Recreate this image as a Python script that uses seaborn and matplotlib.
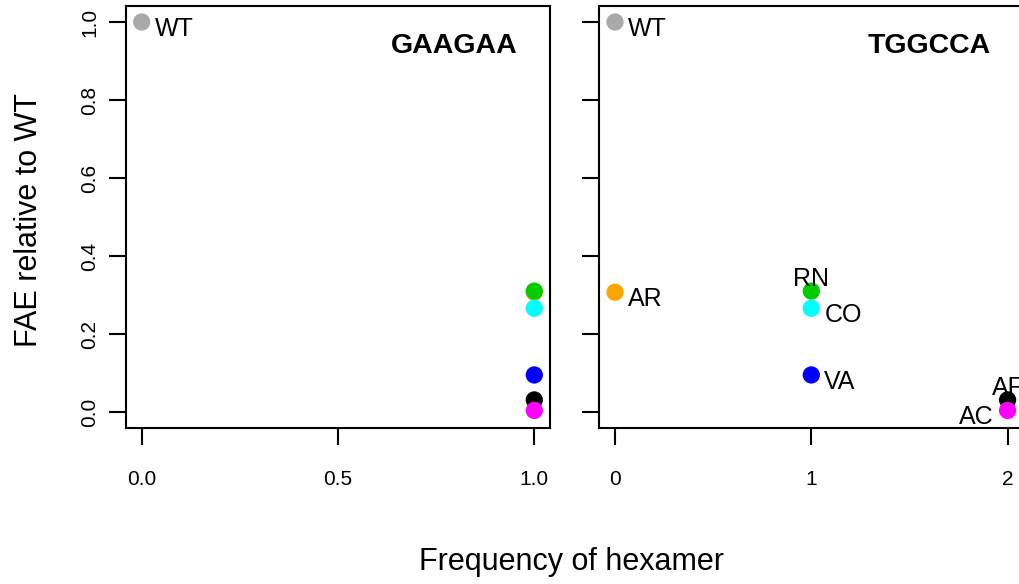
"""FAE relative to WT vs. hexamer frequency, two panels (GAAGAA, TGGCCA)."""

import matplotlib
matplotlib.use("Agg")
import matplotlib.pyplot as plt
import pandas as pd
import seaborn as sns

# data
samples = ["WT", "AR", "RN", "CO", "VA", "AF", "AC"]
fae = [1.0, 0.307, 0.310, 0.266, 0.095, 0.031, 0.004]
freq_gaagaa = [0, 1, 1, 1, 1, 1, 1]
freq_tggcca = [0, 0, 1, 1, 1, 2, 2]
point_colors = ["#A9A9A9", "#FFA500", "#00CD00", "#00FFFF", "#0000FF", "#000000", "#FF00FF"]
panel_titles = ["GAAGAA", "TGGCCA"]
xticks_gaagaa = [0.0, 0.5, 1.0]
xticks_tggcca = [0, 1, 2]
yticks = [0.0, 0.2, 0.4, 0.6, 0.8, 1.0]

# which side of the point each label sits on (right panel labels all, left only WT)
label_side = {"WT": "right", "AR": "right", "RN": "top", "CO": "right",
              "VA": "right", "AF": "top", "AC": "left"}

df = pd.DataFrame({"sample": samples, "fae": fae,
                   "GAAGAA": freq_gaagaa, "TGGCCA": freq_tggcca})
palette = dict(zip(samples, point_colors))

sns.set_style("white")
plt.rcParams["font.family"] = ["Liberation Sans", "DejaVu Sans"]
plt.rcParams["text.color"] = "black"

W, H = 1019, 584
fig = plt.figure(figsize=(W / 100, H / 100), dpi=100)
box_w, box_h = 424 / W, 421.2 / H
bottom = (H - 427.6) / H
ax_left = fig.add_axes([126 / W, bottom, box_w, box_h])
ax_right = fig.add_axes([599.3 / W, bottom, box_w, box_h])

offsets = {"right": (13, -14, "left"), "top": (0, 5, "center"), "left": (-14, -14, "right")}


def pad(lo, hi):
    d = (hi - lo) * 0.04
    return lo - d, hi + d


for ax, col, title, xt, labelled in [
    (ax_left, "GAAGAA", panel_titles[0], xticks_gaagaa, ["WT"]),
    (ax_right, "TGGCCA", panel_titles[1], xticks_tggcca, samples),
]:
    sns.scatterplot(data=df, x=col, y="fae", hue="sample", palette=palette,
                    hue_order=samples, s=155, linewidth=0, legend=False, ax=ax,
                    zorder=3, clip_on=False)
    ax.set_xlim(*pad(min(xt), max(xt)))
    ax.set_ylim(*pad(0, 1))
    ax.set_xticks(xt)
    ax.set_yticks(yticks)
    if col == "GAAGAA":
        ax.set_xticklabels([f"{v:.1f}" for v in xt])
        ax.set_yticklabels([f"{v:.1f}" for v in yticks])
    else:
        ax.set_xticklabels([str(v) for v in xt])
        ax.set_yticklabels([])
    ax.set_xlabel("")
    ax.set_ylabel("")

    for sp in ax.spines.values():
        sp.set_visible(True)
        sp.set_color("black")
        sp.set_linewidth(1.5)
    ax.tick_params(axis="both", direction="out", length=12, width=1.5,
                   color="black", labelsize=15, labelcolor="black",
                   bottom=True, left=True)
    ax.tick_params(axis="x", pad=18.5)
    ax.tick_params(axis="y", pad=7, labelrotation=90)
    for lab in ax.get_yticklabels():
        lab.set_va("center")

    for name, x, y in zip(df["sample"], df[col], df["fae"]):
        if name not in labelled:
            continue
        dx, dy, ha = offsets[label_side[name]]
        ax.annotate(name, (x, y), xytext=(dx, dy), textcoords="offset pixels",
                    ha=ha, va="baseline", fontsize=18, color="black",
                    annotation_clip=False)

    ax.text(1 - 0.077, 0.8894, title, transform=ax.transAxes, ha="right",
            va="baseline", fontsize=20.5, fontweight="bold", color="black")

fig.text(571.5 / W, 14 / H, "Frequency of hexamer", ha="center",
         va="baseline", fontsize=22, color="black")
fig.text(44 / W, (H - 220) / H, "FAE relative to WT", rotation=90,
         ha="right", va="center", fontsize=22, color="black")

fig.savefig("out.png", dpi=100)
plt.close(fig)
